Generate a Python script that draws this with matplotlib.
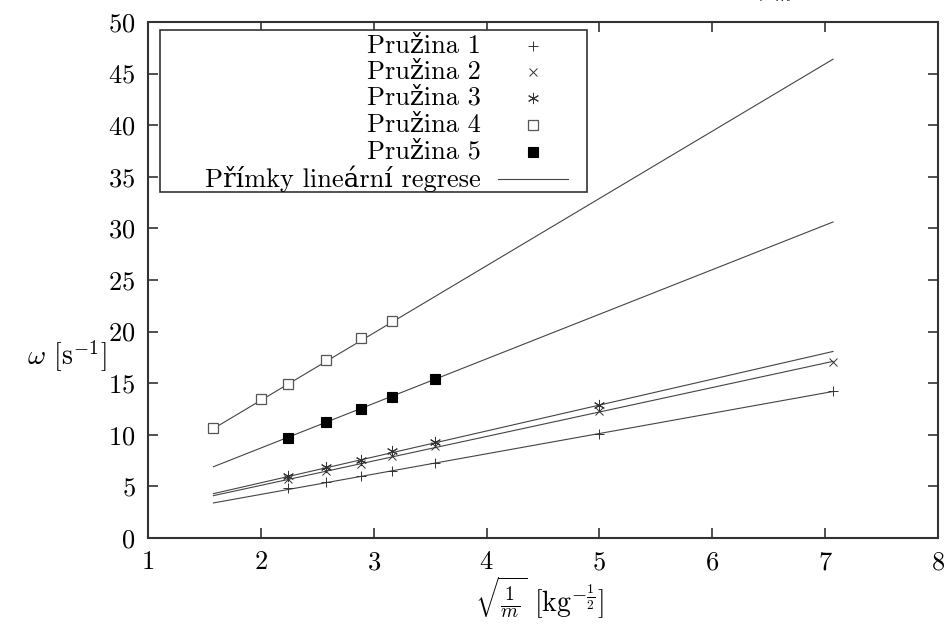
import numpy as np
import matplotlib
matplotlib.use("Agg")
import matplotlib.pyplot as plt

plt.rcParams['font.family'] = ['cmr10', 'DejaVu Serif']
plt.rcParams['mathtext.fontset'] = 'cm'
plt.rcParams['axes.formatter.use_mathtext'] = True

# sqrt(1/m) values [kg^-1/2] and omega [s^-1]
x1 = [2.24, 2.58, 2.89, 3.16, 3.54, 5.00, 7.07]
y1 = [4.8, 5.4, 6.0, 6.5, 7.3, 10.1, 14.2]
x2 = [2.24, 2.58, 2.89, 3.16, 3.54, 5.00, 7.07]
y2 = [5.7, 6.5, 7.2, 7.9, 8.9, 12.3, 17.1]
x3 = [2.24, 2.58, 2.89, 3.16, 3.54, 5.00]
y3 = [6.0, 6.9, 7.6, 8.4, 9.3, 12.9]
x4 = [1.58, 2.00, 2.24, 2.58, 2.89, 3.16]
y4 = [10.7, 13.5, 14.9, 17.2, 19.4, 21.0]
x5 = [2.24, 2.58, 2.89, 3.16, 3.54]
y5 = [9.7, 11.2, 12.5, 13.7, 15.4]

# regression lines omega = k * x + q
fit_k = [1.967, 2.37, 2.51, 6.52, 4.32]
fit_q = [0.29, 0.36, 0.33, 0.30, 0.08]
fit_range = [1.58, 7.07]

labels = ['Pružina 1', 'Pružina 2', 'Pružina 3', 'Pružina 4', 'Pružina 5',
          'Přímky lineární regrese']
markers = [dict(marker='+', ms=7, mfc='none', mec='#333333', mew=0.7),
           dict(marker='x', ms=6, mfc='none', mec='#333333', mew=0.7),
           dict(marker=(6, 2, 0), ms=8, mfc='none', mec='#333333', mew=0.7),
           dict(marker='s', ms=7, mfc='white', mec='#555555', mew=0.9),
           dict(marker='s', ms=7, mfc='black', mec='black', mew=0.8)]

fig = plt.figure(figsize=(9.53, 6.28), dpi=100)
W, H = 953, 628
L, R, T, B = 148, 938, 22, 538
ax = fig.add_axes([L / W, 1 - B / H, (R - L) / W, (B - T) / H])

xs = np.array(fit_range)
for k, q in zip(fit_k, fit_q):
    ax.plot(xs, k * xs + q, color='#444444', lw=0.8)

for xd, yd, m in zip([x1, x2, x3, x4, x5], [y1, y2, y3, y4, y5], markers):
    ax.plot(xd, yd, ls='none', **m)

ax.set_xlim(1, 8)
ax.set_ylim(0, 50)
ax.set_xticks(range(1, 9))
ax.set_yticks(range(0, 51, 5))
ax.tick_params(direction='in', length=7, width=1.2, top=True, right=True,
               labelsize=19, pad=9, color='#333333')
for s in ax.spines.values():
    s.set_linewidth(1.5)
    s.set_color('#333333')

def px(xp, yp):
    return (xp - L) / (R - L), (B - yp) / (B - T)

# legend drawn by hand (text right-aligned, sample to the right)
x0, y0 = px(160, 192)
x1b, y1b = px(587, 30)
ax.add_patch(plt.Rectangle((x0, y0), x1b - x0, y1b - y0, transform=ax.transAxes,
                           fill=True, fc='white', ec='#333333', lw=1.2, zorder=5))
rows = [46, 72, 98, 125, 152, 179]
for lab, m, yr in zip(labels, markers + [None], rows):
    tx, ty = px(481, yr)
    ax.text(tx, ty, lab, transform=ax.transAxes, ha='right', va='center',
            fontsize=19, zorder=6)
    if m is not None:
        mx, my = px(533, yr)
        ax.plot([mx], [my], transform=ax.transAxes, ls='none', zorder=6,
                clip_on=False, **m)
    else:
        ax.plot([px(498, yr)[0], px(568, yr)[0]], [ty, ty], transform=ax.transAxes,
                color='#444444', lw=0.8, zorder=6, clip_on=False)

fig.text(67 / W, 1 - 356 / H, r'$\omega$ [s$^{-1}$]', ha='center', va='center', fontsize=20)
fig.text(540 / W, 1 - 598 / H, r'$\sqrt{\frac{1}{m}}$ [kg$^{-\frac{1}{2}}$]',
         ha='center', va='center', fontsize=20)
# title, mostly cut off by the top edge
fig.text(775 / W, 1 - 5 / H, r'$\sqrt{\frac{1}{m}}$', ha='center', va='bottom', fontsize=19)

fig.savefig('out.png', dpi=100)
